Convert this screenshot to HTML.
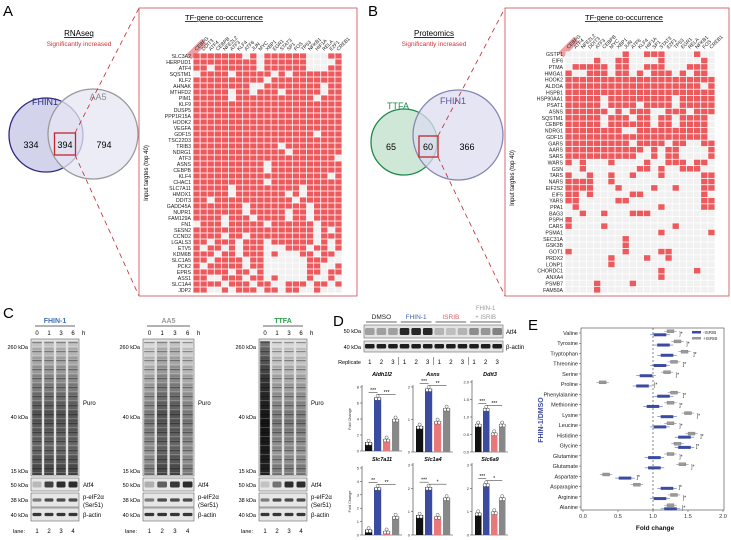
<!DOCTYPE html>
<html><head><meta charset="utf-8">
<style>
html,body{margin:0;padding:0;background:#fff;}
svg{display:block;font-family:"Liberation Sans",Arial,sans-serif;}
</style></head>
<body>
<svg id="fig" width="731" height="540" viewBox="0 0 731 540" xmlns="http://www.w3.org/2000/svg">
<defs>
<linearGradient id="puroA" x1="0" y1="0" x2="0" y2="1">
<stop offset="0" stop-color="#c8c8c8"/><stop offset="0.3" stop-color="#8a8a8a"/><stop offset="0.55" stop-color="#555"/><stop offset="0.8" stop-color="#6a6a6a"/><stop offset="1" stop-color="#444"/></linearGradient>
<linearGradient id="puroL" x1="0" y1="0" x2="0" y2="1">
<stop offset="0" stop-color="#dcdcdc"/><stop offset="0.3" stop-color="#aaa"/><stop offset="0.6" stop-color="#7a7a7a"/><stop offset="0.85" stop-color="#999"/><stop offset="1" stop-color="#777"/></linearGradient>
<linearGradient id="puroD" x1="0" y1="0" x2="0" y2="1">
<stop offset="0" stop-color="#777"/><stop offset="0.3" stop-color="#333"/><stop offset="0.6" stop-color="#151515"/><stop offset="1" stop-color="#222"/></linearGradient>
<pattern id="bands" width="10" height="9" patternUnits="userSpaceOnUse">
<rect x="0" y="0" width="10" height="1.2" fill="#000" opacity="0.35"/><rect x="0" y="4" width="10" height="0.8" fill="#fff" opacity="0.25"/><rect x="0" y="6.5" width="10" height="1" fill="#000" opacity="0.2"/></pattern>
</defs>

<!-- ===== Panel A ===== -->
<g>
<text x="3" y="16" font-size="15">A</text>
<text x="79" y="36" font-size="8" text-anchor="middle" text-decoration="underline">RNAseq</text>
<text x="79" y="46" font-size="6.5" fill="#d0343a" text-anchor="middle">Significantly increased</text>
<circle cx="46" cy="135" r="37" fill="#d3d3ec" stroke="#2f2a7e" stroke-width="1.3"/>
<circle cx="93" cy="134" r="45" fill="#e6e6f3" fill-opacity="0.75" stroke="#9a9a9a" stroke-width="1.3"/>
<text x="45" y="105" font-size="9" fill="#2f2a7e" text-anchor="middle">FHIN1</text>
<text x="98" y="100" font-size="9" fill="#8a8a8a" text-anchor="middle">AA5</text>
<text x="31" y="148" font-size="9" text-anchor="middle">334</text>
<text x="65" y="148" font-size="9" text-anchor="middle">394</text>
<text x="104" y="148" font-size="9" text-anchor="middle">794</text>
<rect x="54.5" y="133" width="21" height="22" fill="none" stroke="#c0282d" stroke-width="1.3"/>
<line x1="75" y1="133" x2="139" y2="8" stroke="#c0282d" stroke-width="0.8" stroke-dasharray="5,4"/>
<line x1="75" y1="155" x2="139" y2="296" stroke="#c0282d" stroke-width="0.8" stroke-dasharray="5,4"/>
<rect x="139" y="8" width="218" height="288" fill="none" stroke="#d04a4f" stroke-width="0.8"/>
<text x="224" y="20" font-size="7.5" text-anchor="middle" text-decoration="underline">TF-gene co-occurrence</text>
<text transform="translate(148,173) rotate(-90)" font-size="6" text-anchor="middle">Input targtes (top 40)</text>
<g id="hmA"></g>
</g>

<!-- ===== Panel B ===== -->
<g>
<text x="368" y="16" font-size="15">B</text>
<text x="434" y="36" font-size="8" text-anchor="middle" text-decoration="underline">Proteomics</text>
<text x="434" y="46" font-size="6.5" fill="#d0343a" text-anchor="middle">Significantly increased</text>
<circle cx="404" cy="142" r="33" fill="#cfe7d6" stroke="#1d8a4a" stroke-width="1.3"/>
<circle cx="458" cy="135" r="45" fill="#dcdcf0" fill-opacity="0.75" stroke="#8686b4" stroke-width="1.3"/>
<text x="398" y="109" font-size="9" fill="#1d8a4a" text-anchor="middle">TTFA</text>
<text x="453" y="104" font-size="9" fill="#55559a" text-anchor="middle">FHIN1</text>
<text x="391" y="150" font-size="9" text-anchor="middle">65</text>
<text x="428" y="150" font-size="9" text-anchor="middle">60</text>
<text x="467" y="150" font-size="9" text-anchor="middle">366</text>
<rect x="419" y="136" width="19" height="21" fill="none" stroke="#c0282d" stroke-width="1.3"/>
<line x1="438" y1="136" x2="505" y2="8" stroke="#c0282d" stroke-width="0.8" stroke-dasharray="5,4"/>
<line x1="438" y1="157" x2="505" y2="296" stroke="#c0282d" stroke-width="0.8" stroke-dasharray="5,4"/>
<rect x="505" y="8" width="224" height="288" fill="none" stroke="#d04a4f" stroke-width="0.8"/>
<text x="624" y="20" font-size="7.5" text-anchor="middle" text-decoration="underline">TF-gene co-occurrence</text>
<text transform="translate(514,178) rotate(-90)" font-size="6" text-anchor="middle">Input targtes (top 40)</text>
<g id="hmB"></g>
</g>

<!-- ===== Panel C ===== -->
<g id="panelC">
<text x="3" y="318" font-size="15">C</text>
</g>

<!-- ===== Panel D ===== -->
<g id="panelD">
<text x="333" y="326" font-size="15">D</text>
</g>

<!-- ===== Panel E ===== -->
<g id="panelE">
<text x="528" y="330" font-size="15">E</text>
</g>
</svg>

<script>
// ---------- Heatmap data ----------
const tfNamesA = ["CEBPG","DDIT3","ATF4","CEBPB","NFE2L2","ATF3","KLF4","ATF6","JUN","MYC","XBP1","EGR1","STAT3","SP1","FOS","TP53","NFKB1","HIF1A","RELA","E2F1","CREB1"];
const genesA = ["SLC3A2","HERPUD1","ATF4","SQSTM1","KLF2","AHNAK","MTHFD2","PIM1","KLF9","DUSP5","PPP1R15A","HOOK2","VEGFA","GDF15","TSC22D3","TRIB3","NDRG1","ATF3","ASNS","CEBPB","KLF4","CHAC1","SLC7A11","HMOX1","DDIT3","GADD45A","NUPR1","FAM129A","FN1","SESN2","CCND2","LGALS3","ETV5","KDM6B","SLC1A5","PCK2","EPRS","ASS1","SLC1A4","JDP2"];
const matrixA = [
"111111101011111100011","111111111011111100001","110111111011111100011","011110111110101111111",
"111111111101111111111","111111110011111111011","111110110111011111011","111110111111111110111",
"111111111111111111111","111111111111111111111","111111111111111111111","111111111111111111111",
"111111111111111111111","111111111111111110111","111111111111111111111","111111111111011111111",
"111111111111101111111","111111111111111111110","111111111101111111111","111111111101111111111",
"111111111111111111101","111111111101111111111","111110111111111011111","111110111111101011111",
"110111111111110111111","111111101111111101111","111111101111101101111","111101110111101101111",
"011101111101111110111","111111111111111110101","111101101111111110111","110111011101111110101",
"101101011100011101101","111011011101000110110","110111101100000011100","101111101100000011001",
"111110110100000011011","110011101101000010010","111101110110011101101","110010111011011001000"];
const tfNamesB = ["CEBPG","ATF4","NFE2L2","DDIT3","ATF3","CEBPB","MYC","XBP1","JUN","ATF6","KLF4","HIF1A","SP1","STAT3","E2F1","TP53","EGR1","RELA","NFKB1","FOS","CREB1"];
const genesB = ["GSTP1","EIF6","PTMA","HMGA1","HOOK2","ALDOA","HSPB1","HSP90AA1","PSAT1","ASNS","SQSTM1","CEBPB","NDRG1","GDF15","GARS","AARS","SARS","WARS","GSN","TARS","NARS","EIF2S2","EIF5","YARS","PPA1","BAG3","PSPH","CARS","PSMA1","SEC31A","GSK3B","GOT1","PRDX2","LONP1","CHORDC1","ANXA4","PSMB7","FAM50A"];
const matrixB = [
"000000001001110000100","000010011000010000010","011111011001110001110","100111011010111010110",
"111111111111111111111","111111111111111111101","111111111111111111111","111110111111111011111",
"111110111101111011111","111111010111001110111","111110111011011011110","111110111111011011110",
"111111110011111111110","111111111111111111110","111111111011110110011","111111111110101100001",
"111111111100101100001","101000100001001110110","001000000011010011100","100100100100010000011",
"111100100000000000011","111100010000100100011","110100000110000000010","110000011000000000011",
"010000000000010000011","001001000111000000000","100000000000000000000","100001000000000100000",
"000000000000010000001","000000001000000000000","000000001000000000000","100000001000011000000",
"000000100001001000000","000000100000000000000","000000000000010000100","000000000000010000000",
"000010000100000000000","000010000000000000000"];

// ---------- Panel D data ----------
const dGenes = ["Aldh1l2","Asns","Ddit3","Slc7a11","Slc1a4","Slc6a9"];
const dDMSO  = [1.1, 0.8, 0.8, 0.4, 0.85, 0.95];
const dFHIN  = [6.7, 1.95, 1.25, 3.55, 2.05, 2.2];
const dISRIB = [1.5, 0.95, 0.55, 0.3, 0.8, 1.0];
const dCombo = [4.0, 1.35, 0.8, 1.4, 1.6, 1.6];
const dTickMax = [8, 2, 2, 5, 3, 3];
const dTicks = [[0,2,4,6,8],[0,1,2],[0,0.5,1.0,1.5,2.0],[0,1,2,3,4,5],[0,1,2,3],[0,1,2,3]];
const dSig1 = ["***","***","***","**","***","***"];
const dSig2 = ["***","**","***","**","*","*"];

// ---------- Panel E data ----------
const aminoAcids = ["Valine","Tyrosine","Tryptophan","Threonine","Serine","Proline","Phenylalanine","Methionine","Lysine","Leucine","Histidine","Glycine","Glutamine","Glutamate","Aspartate","Asparagine","Arginine","Alanine"];
const eMinus = [1.1,1.15,1.2,1.1,0.9,0.85,1.15,1.0,1.2,1.1,1.45,1.45,1.02,1.02,0.6,1.2,1.1,1.25];
const ePlus  = [1.25,1.35,1.45,1.3,1.2,0.28,1.3,1.25,1.5,1.25,1.55,1.35,1.25,1.42,0.33,0.77,1.3,1.25];
const eTicks = [0.0,0.5,1.0,1.5,2.0];

const NS = "http://www.w3.org/2000/svg";
function mk(tag, attrs, parent){const e=document.createElementNS(NS,tag);for(const k in attrs)e.setAttribute(k,attrs[k]);parent.appendChild(e);return e;}
function txt(x,y,s,size,parent,anchor,fill,extra){const t=mk("text",{x:x,y:y,"font-size":size,"text-anchor":anchor||"start",fill:fill||"#000"},parent);if(extra)for(const k in extra)t.setAttribute(k,extra[k]);t.textContent=s;return t;}

// ---------- Heatmaps ----------
function heatmap(g, x0, y0, cw, rh, genes, tfs, matrix, hlY){
  const hx = x0, hy = y0 - 5;
  const hl = mk("rect",{x:hx+1,y:hy-10,width:7,height:22,fill:"#f0a0a3",transform:`rotate(45 ${hx+4} ${hy})`},g);
  
  
  tfs.forEach((tf,j)=>{
    const cx = x0 + j*cw + cw/2;
    const t = txt(cx, y0-2, tf, 5, g, "start", "#222", {transform:`rotate(-45 ${cx} ${y0-2})`});
    
    
  });
  genes.forEach((gname,i)=>{
    const y = y0 + i*rh;
    const lab = txt(x0-2, y+rh-1.2, gname, 5.2, g, "end", "#222");
    
    
    const row = matrix[i] || "";
    for(let j=0;j<tfs.length;j++){
      const on = row[j]==="1";
      const c = mk("rect",{x:x0+j*cw+0.4,y:y+0.4,width:cw-0.8,height:rh-0.8,fill:on?"#ec5a5e":"#f1f1f1"},g);
      
      
    }
  });
}
heatmap(document.getElementById("hmA"), 193, 53, 149/21, 6.0, genesA, tfNamesA, matrixA);
heatmap(document.getElementById("hmB"), 565, 51, 150/21, 242/genesB.length, genesB, tfNamesB, matrixB);

// ---------- Panel C blots ----------
const C = document.getElementById("panelC");
const blotTitles = ["FHIN-1","AA5","TTFA"];
const blotTitleColors = ["#3f6fb5","#9a9a9a","#2aa14a"];
const atf4Level = [[0.25,0.85,0.95,0.95],[0.3,0.7,0.9,0.95],[0.2,0.6,0.95,0.95]];
const puroFill = [["puroA","puroA","puroA","puroA"],["puroL","puroA","puroA","puroL"],["puroD","puroL","puroL","puroL"]];
const blotX = [31,143,259], blotW = [48,51,48];
for(let b=0;b<3;b++){
  const x=blotX[b], w=blotW[b], lw=w/4;
  const g = mk("g",{},C);
  
  
  const tt=txt(x+w/2,323,blotTitles[b],7,g,"middle",blotTitleColors[b],{"font-weight":"bold"});
  
  
  mk("line",{x1:x+4,y1:326,x2:x+w-4,y2:326,stroke:"#333","stroke-width":0.8},g);
  ["0","1","3","6"].forEach((s,i)=>txt(x+lw*i+lw/2,335,s,6,g,"middle"));
  txt(x+w+3,335,"h",6,g);
  const pr=mk("rect",{x:x,y:339,width:w,height:137,fill:"#e2e2e2",stroke:"#666","stroke-width":0.6},g);
  for(let i=0;i<4;i++){
    mk("rect",{x:x+lw*i+1.2,y:341,width:lw-2.4,height:134,fill:`url(#${puroFill[b][i]})`},g);
    mk("rect",{x:x+lw*i+1.2,y:341,width:lw-2.4,height:134,fill:"url(#bands)"},g);
  }
  // small blots
  const rows=[[478,13],[493,14],[508,13]];
  rows.forEach((r,k)=>{
    mk("rect",{x:x,y:r[0],width:w,height:r[1],fill:"#e6e6e6",stroke:"#666","stroke-width":0.6},g);
    for(let i=0;i<4;i++){
      let lev = k===0?atf4Level[b][i]:(k===1?(i===0?0.55:0.8):0.9);
      const shade=Math.round(235-200*lev);
      mk("rect",{x:x+lw*i+1.5,y:r[0]+r[1]/2-(k===0?3:1.6),width:lw-3,height:k===0?6:3.2,rx:1.2,fill:`rgb(${shade},${shade},${shade})`},g);
    }
  });
  const lx = x-3;
  txt(lx,349,"260 kDa",5.5,g,"end");
  txt(lx,419,"40 kDa",5.5,g,"end");
  txt(lx,473,"15 kDa",5.5,g,"end");
  txt(lx,487,"50 kDa",5.5,g,"end");
  txt(lx,502,"38 kDa",5.5,g,"end");
  txt(lx,517,"40 kDa",5.5,g,"end");
  const rx = x+w+4;
  txt(rx,405,"Puro",6,g);
  txt(rx,487,"Atf4",6,g);
  txt(rx,499,"p-eIF2\u03B1",6,g);
  txt(rx,507,"(Ser51)",6,g);
  txt(rx,517,"\u03B2-actin",6,g);
  txt(x-6,533,"lane:",5.5,g,"end");
  ["1","2","3","4"].forEach((s,i)=>txt(x+lw*i+lw/2,533,s,6,g,"middle"));
}

// ---------- Panel D ----------
const D = document.getElementById("panelD");
(function(){
  const g=mk("g",{},D);
  
  
  const x0=364,w=139,lw=w/12;
  const grp=[["DMSO","#222"],["FHIN-1","#3f5fb0"],["ISRIB","#e06064"]];
  grp.forEach((gg,i)=>{
    txt(x0+lw*3*i+lw*1.5,319,gg[0],6.5,g,"middle",gg[1]);
    mk("line",{x1:x0+lw*3*i+2,y1:322,x2:x0+lw*3*(i+1)-2,y2:322,stroke:"#333","stroke-width":0.7},g);
  });
  txt(x0+lw*10.5,310,"FHIN-1",6,g,"middle","#999");
  txt(x0+lw*10.5,319,"+ ISRIB",6,g,"middle","#999");
  mk("line",{x1:x0+lw*9+2,y1:322,x2:x0+w-2,y2:322,stroke:"#333","stroke-width":0.7},g);
  mk("rect",{x:x0,y:325,width:w,height:13,fill:"#e4e4e4",stroke:"#666","stroke-width":0.6},g);
  mk("rect",{x:x0,y:341,width:w,height:11,fill:"#e4e4e4",stroke:"#666","stroke-width":0.6},g);
  const lev=[0.35,0.35,0.35,0.95,0.95,0.95,0.25,0.2,0.25,0.45,0.4,0.5];
  for(let i=0;i<12;i++){
    const s=Math.round(230-200*lev[i]);
    mk("rect",{x:x0+lw*i+1,y:328,width:lw-2,height:7,rx:1.5,fill:`rgb(${s},${s},${s})`},g);
    mk("rect",{x:x0+lw*i+1,y:344,width:lw-2,height:4.5,rx:1.2,fill:"#1e1e1e"},g);
    txt(x0+lw*i+lw/2,364,String(i%3+1),6,g,"middle");
    if(i%3===0&&i>0)mk("line",{x1:x0+lw*i,y1:357,x2:x0+lw*i,y2:365,stroke:"#333","stroke-width":0.5},g);
  }
  txt(x0-3,333,"50 kDa",5.5,g,"end");
  txt(x0-3,349,"40 kDa",5.5,g,"end");
  txt(x0-3,364,"Replicate",5.5,g,"end");
  txt(x0+w+3,334,"Atf4",6,g);
  txt(x0+w+3,349,"\u03B2-actin",6,g);
})();
const dPlotX=[362,413,472,362,413,472], dPlotW=[40,40,36,40,40,36];
const dZeroY=[451,452,452,535,535,535], dMaxY=[387,387,382,468,465,465];
const barColors=["#111","#3b4ba0","#e8787a","#888"];
dGenes.forEach((gene,k)=>{
  const g=mk("g",{},D);
  
  
  const x0=dPlotX[k], w=dPlotW[k], y0=dZeroY[k];
  const sy=v=>y0-(v/dTickMax[k])*(y0-dMaxY[k]);
  mk("line",{x1:x0,y1:y0,x2:x0,y2:sy(dTickMax[k])-2,stroke:"#333","stroke-width":0.6},g);
  mk("line",{x1:x0,y1:y0,x2:x0+w,y2:y0,stroke:"#333","stroke-width":0.6},g);
  dTicks[k].forEach(t=>{
    mk("line",{x1:x0-2,y1:sy(t),x2:x0,y2:sy(t),stroke:"#333","stroke-width":0.5},g);
    txt(x0-3,sy(t)+1.5,k===2?t.toFixed(1):String(t),4,g,"end","#333");
  });
  const tt=txt(x0+w/2,k<3?376:461,gene,5.5,g,"middle","#000",{"font-style":"italic","font-weight":"bold"});
  
  
  const vals=[dDMSO[k],dFHIN[k],dISRIB[k],dCombo[k]];
  const bw=w/4*0.72;
  vals.forEach((v,i)=>{
    const bx=x0+3+i*(w-4)/4;
    const r=mk("rect",{x:bx,y:sy(v),width:bw,height:y0-sy(v),fill:barColors[i]},g);
    
    
    [-1.3,0,1.3].forEach((o,m)=>mk("circle",{cx:bx+bw/2+o*1.2,cy:sy(v)+(m===1?-1.5:1.5),r:1.6,fill:"#fff",stroke:"#222","stroke-width":0.4},g));
  });
  const bxc=i=>x0+3+i*(w-4)/4+bw/2;
  const top=sy(dFHIN[k])-5;
  mk("line",{x1:bxc(0),y1:top,x2:bxc(1),y2:top,stroke:"#222","stroke-width":0.5},g);
  txt((bxc(0)+bxc(1))/2,top-0.5,dSig1[k],5,g,"middle");
  mk("line",{x1:bxc(1),y1:top+2,x2:bxc(3),y2:top+2,stroke:"#222","stroke-width":0.5},g);
  txt((bxc(1)+bxc(3))/2,top+1.5,dSig2[k],5,g,"middle");
  if(k%3===0){
    txt(0,0,"Fold Change",3.8,g,"middle","#333",{transform:`translate(${x0-11},${(y0+dMaxY[k])/2}) rotate(-90)`});
  }
});

// ---------- Panel E ----------
const E=document.getElementById("panelE");
(function(){
  const g=mk("g",{},E);
  
  
  const px0=583, px1=723, top=328, bottom=510;
  const sx=v=>px0+(v/2)*(px1-px0);
  const r0=333, step=(507-333)/(aminoAcids.length-1);
  mk("rect",{x:581,y:top,width:px1-581+1,height:bottom-top,fill:"none",stroke:"#444","stroke-width":0.6},g);
  mk("line",{x1:sx(1),y1:top,x2:sx(1),y2:bottom,stroke:"#333","stroke-width":0.6,"stroke-dasharray":"2,2"},g);
  eTicks.forEach(t=>{
    mk("line",{x1:sx(t),y1:bottom,x2:sx(t),y2:bottom+2,stroke:"#444","stroke-width":0.5},g);
    txt(sx(t),518,t.toFixed(1),5.5,g,"middle","#333");
  });
  const xt=txt(655,530,"Fold change",6.5,g,"middle","#111",{"font-weight":"bold"});
  
  
  const yt=txt(0,0,"FHIN-1/DMSO",7,g,"middle","#3b4ba0",{"font-weight":"bold",transform:"translate(543,420) rotate(-90)"});
  
  
  aminoAcids.forEach((aa,i)=>{
    const y=r0+i*step;
    const l=txt(578,y+2,aa,5.5,g,"end","#222");
    
    
    mk("line",{x1:579,y1:y,x2:581,y2:y,stroke:"#444","stroke-width":0.5},g);
    // +ISRIB (gray) above
    const p=ePlus[i];
    mk("line",{x1:sx(p-0.09),y1:y-1.8,x2:sx(p+0.09),y2:y-1.8,stroke:"#777","stroke-width":0.5},g);
    const bp=mk("rect",{x:sx(p-0.05),y:y-3.3,width:sx(p+0.05)-sx(p-0.05),height:3,fill:"#9a9a9a",stroke:"#666","stroke-width":0.3},g);
    
    
    // -ISRIB (blue) below
    const m=eMinus[i];
    mk("line",{x1:sx(m-0.14),y1:y+1.8,x2:sx(m+0.14),y2:y+1.8,stroke:"#3b4ba0","stroke-width":0.5},g);
    const bm=mk("rect",{x:sx(m-0.09),y:y+0.3,width:sx(m+0.09)-sx(m-0.09),height:3,fill:"#3b4ba0"},g);
    
    
    const sxp=Math.max(sx(p+0.11),sx(m+0.15))+1;
    txt(sxp,y+2.5,"]*",5,g,"start","#222");
  });
  mk("rect",{x:692,y:331,width:9,height:2.5,fill:"#3b4ba0"},g);
  txt(703,334,"-ISRIB",4.5,g,"start","#333");
  mk("rect",{x:692,y:337,width:9,height:2.5,fill:"#999"},g);
  txt(703,340,"+ISRIB",4.5,g,"start","#333");
})();
</script>
</body></html>
